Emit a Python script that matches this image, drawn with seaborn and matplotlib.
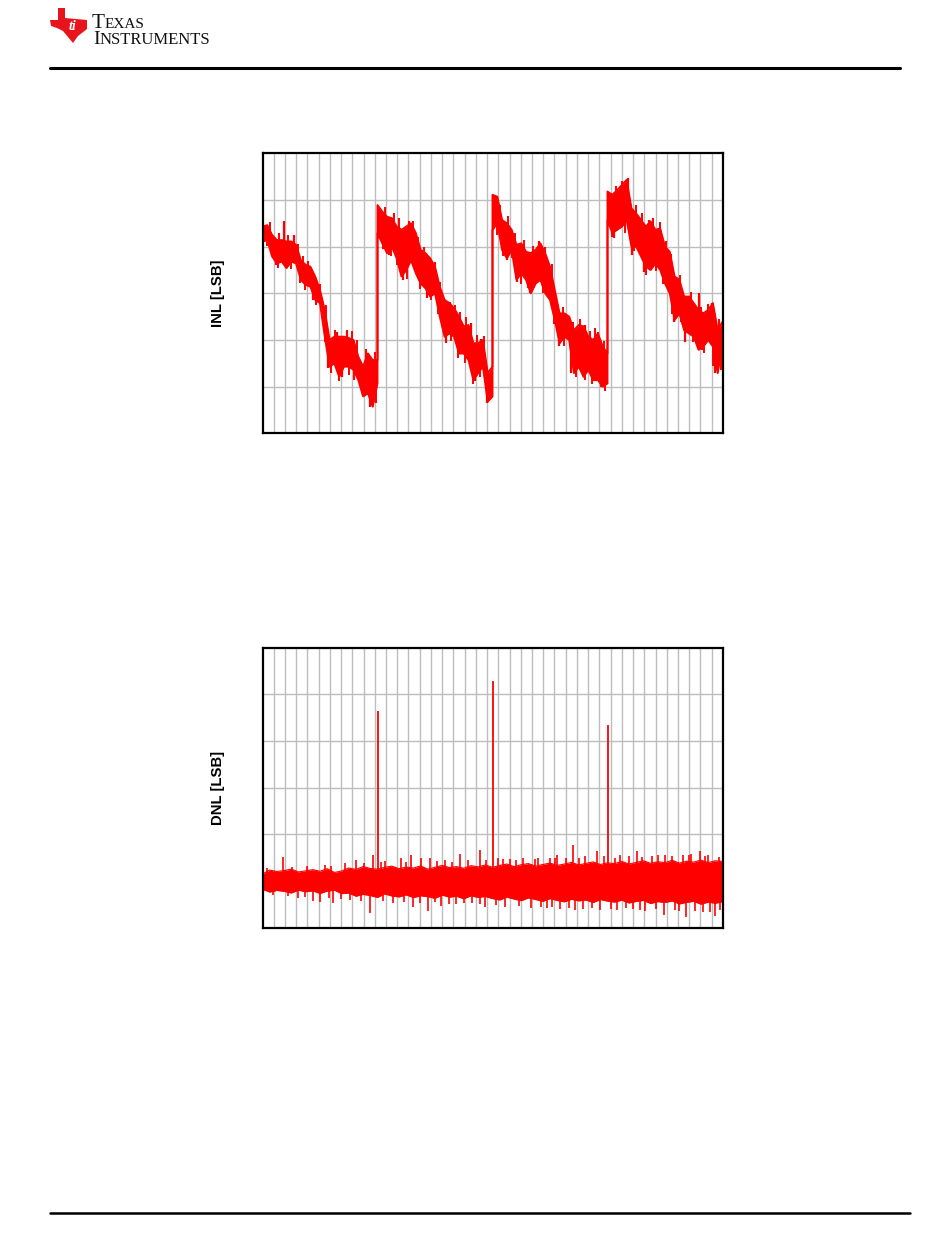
import numpy as np
import pandas as pd
import matplotlib
matplotlib.use("Agg")
import matplotlib.pyplot as plt
import seaborn as sns
from matplotlib.patches import Polygon
from matplotlib.lines import Line2D

# ---------------- data ----------------
segment_starts = [0, 16384, 32768, 49152]
samples_per_segment = 25

inl_hi_s1 = [1.43, 1.46, 1.25, 1.14, 1.14, 1.11, 1.11, 1.04, 0.71, 0.61, 0.57, 0.36, 0.07,
             -0.36, -1.00, -0.93, -0.93, -0.93, -0.96, -1.00, -1.36, -1.57, -1.29, -1.43, -1.43]
inl_lo_s1 = [1.11, 1.14, 0.79, 0.64, 0.68, 0.54, 0.68, 0.64, 0.29, 0.18, 0.14, -0.14, -0.21,
             -0.93, -1.57, -1.50, -1.79, -1.57, -1.57, -1.64, -1.86, -2.21, -2.14, -2.43, -1.93]
inl_hi_s2 = [1.89, 1.75, 1.64, 1.61, 1.43, 1.36, 1.43, 1.50, 1.29, 0.93, 0.86, 0.75, 0.57,
             0.14, -0.14, -0.21, -0.32, -0.50, -0.71, -0.68, -1.07, -1.07, -1.00, -1.71, -1.57]
inl_lo_s2 = [1.29, 1.07, 0.86, 1.00, 0.75, 0.36, 0.50, 0.71, 0.43, 0.21, 0.11, -0.07, 0.00,
             -0.50, -0.93, -0.86, -0.93, -1.29, -1.29, -1.43, -1.86, -1.71, -1.57, -2.32, -2.21]
inl_hi_s3 = [2.11, 2.07, 1.57, 1.50, 1.36, 1.04, 1.07, 0.89, 0.86, 0.93, 1.07, 0.86, 0.57,
             0.07, -0.43, -0.43, -0.50, -0.79, -0.68, -0.71, -0.93, -1.00, -0.86, -1.14, -1.29]
inl_lo_s3 = [1.36, 1.50, 0.93, 0.75, 0.93, 0.29, 0.43, 0.29, 0.00, 0.21, 0.29, 0.00, -0.14,
             -0.57, -1.07, -0.93, -1.00, -1.71, -1.57, -1.79, -1.64, -1.86, -1.86, -2.00, -1.93]
inl_hi_s4 = [2.18, 2.11, 2.21, 2.32, 2.43, 1.82, 1.71, 1.57, 1.43, 1.54, 1.36, 1.39, 1.00,
             0.89, 0.36, 0.29, -0.07, -0.07, -0.21, -0.36, -0.43, -0.36, -0.21, -0.79, -0.61]
inl_lo_s4 = [1.57, 1.29, 1.36, 1.43, 1.57, 1.00, 1.00, 0.79, 0.57, 0.50, 0.64, 0.50, 0.21,
             0.00, -0.57, -0.43, -0.79, -0.86, -0.93, -1.21, -1.14, -1.00, -1.14, -1.71, -1.07]

# individual INL noise spikes (code, value)
inl_spike_codes = [3063, 4488, 1923, 3348, 7238, 10570, 11995, 9380, 11285, 15315, 14360, 15075,
                   20873, 18023, 20018, 23480, 26714, 26100, 29660, 30230, 31180, 31940,
                   34880, 36300, 39390, 38070, 42200, 44000, 45900, 47800, 48180,
                   52030, 50040, 52650, 54300, 55020, 58580, 60230, 62140, 62610, 64035, 64500]
inl_spike_vals = [1.54, 1.24, 0.61, 0.54, -0.14, -0.82, -0.79, -1.61, -1.79, -2.43, -2.21, -1.27,
                  1.54, 0.82, 0.29, -0.11, -0.18, -1.07, -0.64, -1.89, -0.99, -2.36,
                  0.71, 0.25, 1.11, 0.00, -1.14, -1.71, -0.68, -0.82, -2.00,
                  2.46, 1.18, 0.82, 0.46, 1.57, -0.61, -1.04, 0.00, -1.21, -0.21, -1.71]

# smaller INL teeth along the band edges (code, value)
inl_teeth_codes = [1000, 2400, 3700, 5100, 5800, 6500, 8200, 9000, 10300, 12700, 13400, 14700, 16000,
                   700, 2200, 4000, 5400, 6100, 7600, 8900, 9700, 10900, 12300, 13000, 16100,
                   17400, 18800, 19500, 21500, 22200, 23000, 24600, 25300, 27400, 28100, 29000, 30600, 31500,
                   17100, 18300, 19200, 20600, 22500, 24000, 25000, 26800, 27800, 28800, 30000, 31000,
                   33900, 35000, 36000, 37200, 38500, 40300, 41200, 42800, 44300, 45200, 46600, 47300, 48600,
                   33400, 34200, 35600, 36800, 37800, 40000, 41600, 43000, 44600, 46000, 46900, 48800,
                   50400, 51200, 53200, 54000, 55600, 56600, 57500, 58200, 59500, 61000, 62500, 63500, 65000,
                   49800, 51600, 52900, 54600, 56000, 57100, 58400, 59600, 61300, 62900, 64200, 65300]
inl_teeth_vals = [1.52, 1.30, 1.25, 1.05, 0.80, 0.70, 0.20, -0.25, -0.78, -0.80, -1.00, -1.20, -1.25,
                  1.02, 0.55, 0.52, 0.22, 0.08, -0.25, -1.05, -1.70, -1.88, -1.75, -1.85, -2.35,
                  1.85, 1.72, 1.62, 1.55, 1.20, 1.00, 0.68, 0.25, -0.25, -0.40, -0.50, -0.90, -0.92,
                  0.95, 0.80, 0.60, 0.30, 0.10, -0.15, -0.45, -1.02, -1.38, -1.50, -1.95, -1.80,
                  1.90, 1.65, 1.30, 1.15, 1.02, 1.00, 0.62, -0.30, -0.62, -0.55, -0.80, -0.75, -1.02,
                  1.25, 0.80, 0.75, 0.20, 0.12, 0.00, -0.65, -1.12, -1.80, -1.85, -1.95, -2.10,
                  2.30, 2.40, 1.90, 1.72, 1.62, 1.52, 1.12, 0.85, 0.40, 0.02, -0.30, -0.22, -0.55,
                  1.20, 1.30, 0.90, 0.40, 0.48, 0.20, -0.45, -0.62, -1.05, -1.28, -1.55, -1.65]

dnl_codes = [1024 * i for i in range(65)]
dnl_hi = [0.030, 0.046, 0.040, 0.044, 0.050, 0.038, 0.043, 0.048, 0.041, 0.052,
          0.036, 0.042, 0.055, 0.049, 0.061, 0.053, 0.050, 0.058, 0.063, 0.052,
          0.059, 0.055, 0.064, 0.050, 0.058, 0.066, 0.057, 0.061, 0.054, 0.065,
          0.060, 0.068, 0.058, 0.066, 0.072, 0.061, 0.069, 0.074, 0.063, 0.070,
          0.076, 0.066, 0.072, 0.079, 0.068, 0.075, 0.081, 0.070, 0.077, 0.074,
          0.083, 0.072, 0.079, 0.086, 0.075, 0.082, 0.078, 0.088, 0.076, 0.084,
          0.080, 0.089, 0.078, 0.086, 0.083]
dnl_lo = [-0.036, -0.048, -0.041, -0.045, -0.052, -0.040, -0.047, -0.043, -0.054, -0.044,
          -0.040, -0.055, -0.052, -0.066, -0.058, -0.063, -0.071, -0.056, -0.065, -0.069,
          -0.060, -0.072, -0.064, -0.068, -0.075, -0.061, -0.070, -0.066, -0.077, -0.064,
          -0.071, -0.067, -0.076, -0.082, -0.070, -0.078, -0.085, -0.073, -0.080, -0.088,
          -0.076, -0.084, -0.090, -0.079, -0.086, -0.082, -0.093, -0.080, -0.087, -0.091,
          -0.083, -0.095, -0.088, -0.084, -0.097, -0.089, -0.093, -0.086, -0.099, -0.092,
          -0.088, -0.100, -0.091, -0.096, -0.090]

# large DNL spikes at the major carries
dnl_big_codes = [16384, 32768, 49152]
dnl_big_vals = [0.726, 0.855, 0.666]
# smaller visible DNL spikes (upper side, then lower side)
dnl_spike_codes = [2921, 13366, 15743, 19779, 21110, 22630, 23820, 28094, 30944,
                   37160, 39300, 40960, 44193, 47612, 53300, 57345, 59957, 62330,
                   8900, 11800, 17500, 26000, 33500, 35200, 42000, 46000, 51000, 55500, 61000, 63500,
                   600, 4200, 6300, 9800, 14500, 16900, 20400, 24800, 27000, 29300, 31800, 34200,
                   36100, 38800, 41700, 43200, 45100, 48700, 50200, 52200, 54100, 56400, 58300,
                   60700, 63000, 65000,
                   5058, 7195, 8145, 10045, 15363, 21443, 23580, 25480, 31656,
                   40485, 42380, 44518, 48083, 52840, 57250, 60346, 64478,
                   1500, 12500, 18600, 27500, 29800, 34500, 38200, 45700, 50500, 54500, 58800, 62700,
                   3700, 6000, 9500, 11200, 14100, 17200, 20100, 22400, 24600, 26600, 28700, 31000,
                   33200, 36600, 39700, 41300, 43600, 47000, 49700, 51800, 53800, 56000, 59400,
                   61600, 63800, 65200]
dnl_spike_vals = [0.104, 0.090, 0.110, 0.097, 0.109, 0.100, 0.100, 0.114, 0.133,
                  0.097, 0.100, 0.100, 0.154, 0.126, 0.126, 0.111, 0.109, 0.129,
                  0.070, 0.075, 0.085, 0.090, 0.100, 0.095, 0.110, 0.105, 0.110, 0.105, 0.115, 0.110,
                  0.055, 0.060, 0.062, 0.062, 0.075, 0.080, 0.082, 0.085, 0.080, 0.088, 0.090, 0.092,
                  0.090, 0.095, 0.098, 0.100, 0.098, 0.105, 0.100, 0.108, 0.103, 0.110, 0.105,
                  0.112, 0.108, 0.104,
                  -0.074, -0.086, -0.091, -0.093, -0.139, -0.113, -0.129, -0.106, -0.110,
                  -0.117, -0.120, -0.127, -0.124, -0.120, -0.146, -0.157, -0.150,
                  -0.060, -0.080, -0.095, -0.100, -0.095, -0.110, -0.115, -0.120, -0.125, -0.130, -0.125, -0.135,
                  -0.065, -0.070, -0.072, -0.078, -0.085, -0.088, -0.092, -0.095, -0.090, -0.098, -0.096, -0.100,
                  -0.105, -0.108, -0.110, -0.112, -0.115, -0.118, -0.120, -0.118, -0.125, -0.122, -0.130,
                  -0.128, -0.132, -0.125]

inl_ylabel = "INL [LSB]"
dnl_ylabel = "DNL [LSB]"

# ---------------- build tables ----------------
inl_hi_all = [inl_hi_s1, inl_hi_s2, inl_hi_s3, inl_hi_s4]
inl_lo_all = [inl_lo_s1, inl_lo_s2, inl_lo_s3, inl_lo_s4]
rows = []
for s, start in enumerate(segment_starts):
    offs = np.linspace(0, 16383, samples_per_segment)
    for j in range(samples_per_segment):
        rows.append((start + offs[j], inl_hi_all[s][j], inl_lo_all[s][j]))
inl_df = pd.DataFrame(rows, columns=["code", "hi", "lo"])
dnl_df = pd.DataFrame({"code": dnl_codes, "hi": dnl_hi, "lo": dnl_lo})

# spike base = middle of the band at that code
inl_mid = (inl_df["hi"] + inl_df["lo"]) / 2
inl_spike_base = np.interp(inl_spike_codes, inl_df["code"], inl_mid)
inl_teeth_base = np.interp(inl_teeth_codes, inl_df["code"], inl_mid)

# ---------------- figure ----------------
sns.set_style("white")
plt.rcParams["font.family"] = ["Liberation Sans", "DejaVu Sans"]

W, H = 950, 1254
fig = plt.figure(figsize=(W / 100, H / 100), dpi=100)

ax1 = fig.add_axes([262.5 / W, 1 - 433.3 / H, 460 / W, 280 / H])
ax2 = fig.add_axes([262.5 / W, 1 - 927.5 / H, 460 / W, 280 / H])

red = "#ff0000"

ax1.fill_between(inl_df["code"], inl_df["lo"], inl_df["hi"], color=red, lw=0, zorder=2)
sns.lineplot(data=inl_df, x="code", y="hi", color=red, lw=1.4, estimator=None, sort=False, ax=ax1, zorder=3)
sns.lineplot(data=inl_df, x="code", y="lo", color=red, lw=1.4, estimator=None, sort=False, ax=ax1, zorder=3)
ax1.vlines(inl_spike_codes, inl_spike_base, inl_spike_vals, color=red, lw=1.6, zorder=3)
ax1.vlines(inl_teeth_codes, inl_teeth_base, inl_teeth_vals, color=red, lw=1.4, zorder=3)

ax2.fill_between(dnl_df["code"], dnl_df["lo"], dnl_df["hi"], color=red, lw=0, zorder=2)
sns.lineplot(data=dnl_df, x="code", y="hi", color=red, lw=0.8, estimator=None, sort=False, ax=ax2, zorder=3)
sns.lineplot(data=dnl_df, x="code", y="lo", color=red, lw=0.8, estimator=None, sort=False, ax=ax2, zorder=3)
ax2.vlines(dnl_spike_codes, 0, dnl_spike_vals, color=red, lw=1.2, zorder=3)
ax2.vlines(dnl_big_codes, 0, dnl_big_vals, color=red, lw=1.3, zorder=3)

for ax in (ax1, ax2):
    ax.set_xlim(0, 65536)
    ax.set_xticks(np.arange(1600, 65536, 1600))
    ax.grid(True, color="#bdbdbd", lw=1.0)
    ax.set_axisbelow(True)
    ax.tick_params(length=0, labelbottom=False, labelleft=False)
    for sp in ax.spines.values():
        sp.set_visible(True)
        sp.set_color("black")
        sp.set_linewidth(1.6)
        sp.set_zorder(5)
    ax.set_xlabel("")
    ax.set_ylabel("")

ax1.set_ylim(-3, 3)
ax1.set_yticks([-2, -1, 0, 1, 2])
ax2.set_ylim(-0.2, 1.0)
ax2.set_yticks([0, 0.2, 0.4, 0.6, 0.8])

fig.text(218 / W, 1 - 293.3 / H, inl_ylabel, rotation=90, ha="center", va="center",
         fontsize=10.7, fontweight="bold", color="black")
fig.text(218 / W, 1 - 787.5 / H, dnl_ylabel, rotation=90, ha="center", va="center",
         fontsize=10.7, fontweight="bold", color="black")

# ---------------- page header / footer ----------------
texas = [(58, 8), (65, 8), (65, 18), (87, 20), (87, 29), (78, 36), (73, 43), (68, 37),
         (63, 31), (57, 28), (51, 26), (50, 20), (58, 20)]
fig.add_artist(Polygon([(x / W, 1 - y / H) for x, y in texas], closed=True,
                       transform=fig.transFigure, facecolor="#e8141b", edgecolor="none"))
fig.text(72 / W, 1 - 26 / H, "ti", color="white", fontsize=10, fontweight="bold",
         style="italic", ha="center", va="center", family=["Liberation Serif", "DejaVu Serif"])

serif = ["Liberation Serif", "DejaVu Serif"]
ink = "#111111"
fig.text(91.7 / W, 1 - 28.3 / H, "T", fontsize=15.2, family=serif, va="baseline", color=ink)
fig.text(104.3 / W, 1 - 28.3 / H, "EXAS", fontsize=11.0, family=serif, va="baseline", color=ink)
fig.text(93.3 / W, 1 - 44.5 / H, "I", fontsize=14.0, family=serif, va="baseline", color=ink)
fig.text(100.0 / W, 1 - 44.5 / H, "NSTRUMENTS", fontsize=12.0, family=serif, va="baseline", color=ink)

fig.add_artist(Line2D([50 / W, 900 / W], [1 - 68 / H] * 2, color="black", lw=2.2,
                      transform=fig.transFigure))
fig.add_artist(Line2D([50 / W, 910 / W], [1 - 1213 / H] * 2, color="black", lw=1.8,
                      transform=fig.transFigure))

fig.savefig("out.png", dpi=100, facecolor="white")
